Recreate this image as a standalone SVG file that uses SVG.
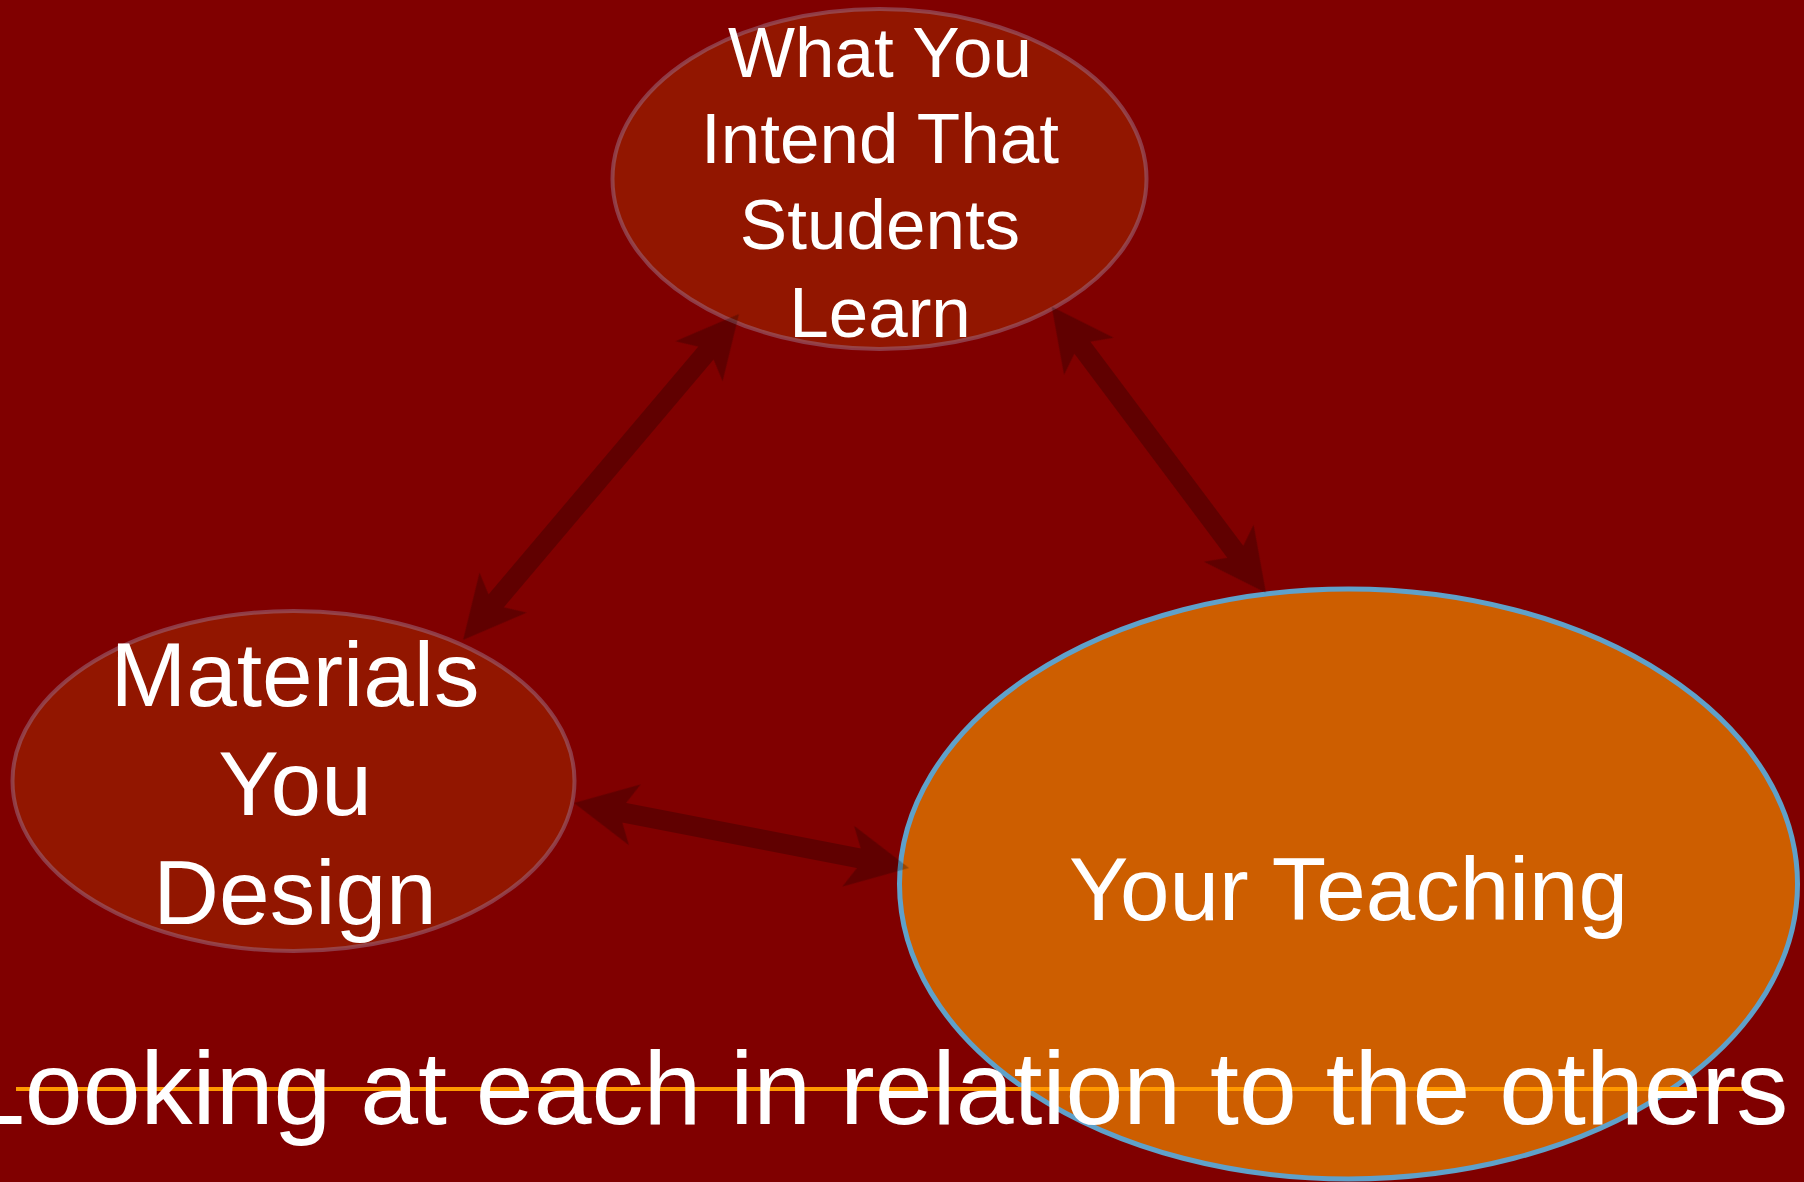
<svg xmlns="http://www.w3.org/2000/svg" width="1804" height="1182" viewBox="0 0 1804 1182">
<style>
.lbl{font-family:"Liberation Sans",Arial,sans-serif;fill:#ffffff;text-anchor:middle}
.small{fill:#921600;stroke:#9a6a80;stroke-opacity:0.55;stroke-width:4}
.arrow{fill:#000000}
</style>
<rect x="0" y="0" width="1804" height="1182" fill="#800000"/>
<g id="node-intend">
<ellipse class="small" cx="879.5" cy="179" rx="267" ry="170"/>
<text class="lbl" font-size="71"><tspan x="880" y="77">What You</tspan><tspan x="880" y="163">Intend That</tspan><tspan x="880" y="249">Students</tspan><tspan x="880" y="337">Learn</tspan></text>
</g>
<g id="node-materials">
<ellipse class="small" cx="293.5" cy="781" rx="281" ry="170"/>
<text class="lbl" font-size="91"><tspan x="295" y="706">Materials</tspan><tspan x="295" y="815">You</tspan><tspan x="295" y="924">Design</tspan></text>
</g>
<g id="node-teaching">
<ellipse cx="1348.5" cy="884" rx="449" ry="295" fill="#cd5e00" stroke="#5fa1ca" stroke-width="5"/>
<text class="lbl" font-size="89" x="1348.5" y="920">Your Teaching</text>
</g>
<g id="connectors" opacity="0.25">
<path class="arrow" transform="translate(739,314) rotate(130.25)" d="M0,0 L62,-31 L51.2,-10 L375.8,-10 L365,-31 L427,0 L365,31 L375.8,10 L51.2,10 L62,31 Z"/>
<path class="arrow" transform="translate(1051.7,306.7) rotate(53.17)" d="M0,0 L62,-31 L51.2,-10 L306.2,-10 L295.4,-31 L357.4,0 L295.4,31 L306.2,10 L51.2,10 L62,31 Z"/>
<path class="arrow" transform="translate(574,803) rotate(10.98)" d="M0,0 L62,-31 L51.2,-10 L290.1,-10 L279.3,-31 L341.3,0 L279.3,31 L290.1,10 L51.2,10 L62,31 Z"/>
</g>
<g id="title">
<line x1="16" y1="1089" x2="1743" y2="1089" stroke="#ff9900" stroke-width="4"/>
<text font-family="'Liberation Sans',Arial,sans-serif" fill="#ffffff" font-size="104" x="-33" y="1124">Looking at each in relation to the others</text>
</g>
</svg>
